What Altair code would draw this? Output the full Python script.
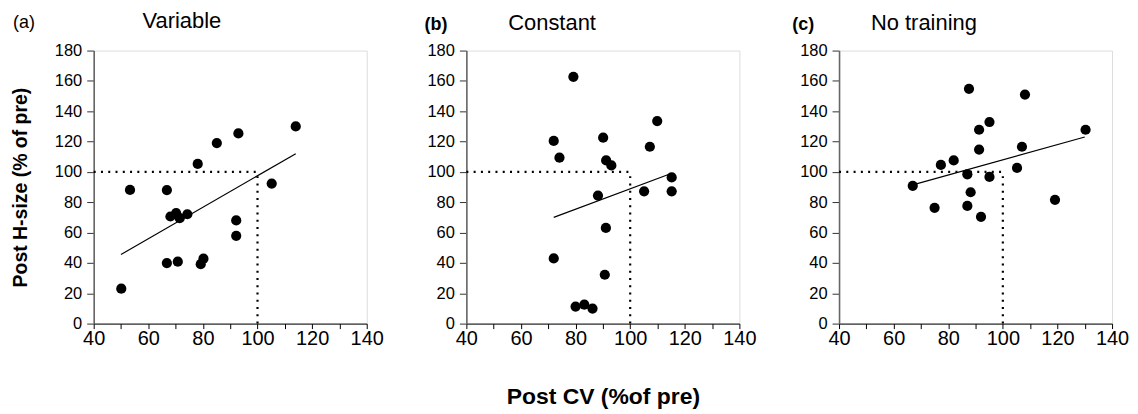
import altair as alt
import pandas as pd

FONT = "Liberation Sans"

# ---- data ----
a_x = [78.1, 85.1, 93.0, 114.0, 53.3, 66.8, 105.2, 68.1, 70.2, 71.5, 74.3, 92.2, 92.2, 66.8, 70.8, 79.2, 80.2, 50.1]
a_y = [105.3, 119.0, 125.4, 130.0, 88.1, 88.0, 92.3, 70.6, 72.8, 69.5, 72.1, 68.0, 57.9, 39.9, 40.8, 39.2, 42.8, 23.0]
a_fit_x = [50.0, 114.0]
a_fit_y = [45.5, 112.0]

b_x = [79.2, 109.9, 72.0, 90.1, 107.2, 74.1, 91.2, 93.1, 115.2, 115.2, 105.1, 88.2, 91.1, 72.0, 90.7, 80.0, 83.2, 86.2]
b_y = [162.7, 133.5, 120.4, 122.6, 116.6, 109.4, 107.6, 104.3, 96.4, 87.2, 87.2, 84.4, 63.1, 43.0, 32.2, 11.2, 12.5, 9.9]
b_fit_x = [72.0, 115.0]
b_fit_y = [70.0, 99.0]

c_x = [87.6, 108.1, 130.3, 95.1, 91.3, 91.3, 107.0, 77.3, 82.0, 105.2, 87.0, 95.1, 67.0, 88.2, 75.0, 87.0, 92.0, 119.1]
c_y = [154.8, 151.0, 127.8, 132.9, 127.8, 114.7, 116.6, 104.6, 107.6, 102.6, 98.4, 96.7, 90.8, 86.6, 76.3, 77.6, 70.4, 81.6]
c_fit_x = [67.0, 130.0]
c_fit_y = [91.5, 123.0]

letters = ["(a)", "(b)", "(c)"]
titles = ["Variable", "Constant", "No training"]
x_ticks = [40, 50, 60, 70, 80, 90, 100, 110, 120, 130, 140]
y_ticks = [0, 20, 40, 60, 80, 100, 120, 140, 160, 180]
x_domain = [40, 140]
y_domain = [0, 180]
ref_value = 100
x_title = "Post CV (%of pre)"
y_title = "Post H-size (% of pre)"


def panel(i, xs, ys, fx, fy, show_y_title, show_x_title, letter_dx, title_dx, text_y, letter_bold):
    xsc = alt.Scale(domain=x_domain, nice=False, zero=False)
    ysc = alt.Scale(domain=y_domain, nice=False)

    xax = dict(values=x_ticks, labelExpr="datum.value % 20 === 0 ? datum.label : ''",
               domainColor="black", domainWidth=1, tickColor="black", tickSize=5, tickWidth=1,
               labelFontSize=20, labelFont=FONT, labelColor="black", labelPadding=0,
               grid=False, labelFlush=False, labelOverlap=False)
    if show_x_title:
        xax.update(title=x_title, titleFont=FONT, titleFontSize=23, titleFontWeight="bold",
                   titleColor="black", titleX=137, titleY=73, titleBaseline="middle", titleAlign="center")
    else:
        xax.update(title=None)

    yax = dict(values=y_ticks, domainColor="#666666", domainWidth=1.6, tickColor="#333333",
               tickSize=7, tickWidth=1, labelFontSize=16.5, labelFont=FONT, labelColor="black",
               labelPadding=5, grid=False, labelFlush=False, labelOverlap=False)
    if show_y_title:
        yax.update(title=y_title, titleFont=FONT, titleFontSize=19.5, titleFontWeight="bold",
                   titleColor="black", titleX=-73, titleY=137, titleAngle=-90,
                   titleBaseline="middle", titleAlign="center")
    else:
        yax.update(title=None)

    X = lambda f="x:Q": alt.X(f, scale=xsc, axis=alt.Axis(**xax))
    Y = lambda f="y:Q": alt.Y(f, scale=ysc, axis=alt.Axis(**yax))

    pts = pd.DataFrame({"x": xs, "y": ys})
    fit = pd.DataFrame({"x": fx, "y": fy})
    hline = pd.DataFrame({"x": [x_domain[0]], "x2": [ref_value], "y": [ref_value]})
    vline = pd.DataFrame({"x": [ref_value], "y": [y_domain[0]], "y2": [ref_value]})

    h = alt.Chart(hline).mark_rule(color="black", strokeWidth=2.2, strokeDash=[2, 5.3]).encode(
        x=X(), x2="x2:Q", y=Y())
    v = alt.Chart(vline).mark_rule(color="black", strokeWidth=2.2, strokeDash=[2, 5.3]).encode(
        x=X(), y=Y(), y2="y2:Q")
    line = alt.Chart(fit).mark_line(color="black", strokeWidth=1.2).encode(x=X(), y=Y())
    dots = alt.Chart(pts).mark_circle(color="black", opacity=1, size=105).encode(x=X(), y=Y())

    lt = alt.Chart(pd.DataFrame({"t": [letters[i]]})).mark_text(
        align="left", baseline="alphabetic", font=FONT, fontSize=18,
        fontWeight="bold" if letter_bold else "normal", color="black").encode(
        x=alt.value(letter_dx), y=alt.value(text_y), text="t:N")
    tt = alt.Chart(pd.DataFrame({"t": [titles[i]]})).mark_text(
        align="left", baseline="alphabetic", font=FONT, fontSize=22, color="black").encode(
        x=alt.value(title_dx), y=alt.value(text_y), text="t:N")

    return alt.layer(h, v, line, dots, lt, tt).properties(width=274, height=274)


pa = panel(0, a_x, a_y, a_fit_x, a_fit_y, True, False, -81, 49, -23, False)
pb = panel(1, b_x, b_y, b_fit_x, b_fit_y, False, True, -42, 42, -21, True)
pc = panel(2, c_x, c_y, c_fit_x, c_fit_y, False, False, -47, 32, -21, True)

chart = alt.hconcat(pa, pb, pc, spacing=100, bounds="flush").properties(
    padding={"left": 2, "top": 0, "right": 0, "bottom": 5}
).configure_view(stroke="transparent").configure(background="white")

chart.save("out.html", embed_options={"renderer": "svg", "actions": False})
